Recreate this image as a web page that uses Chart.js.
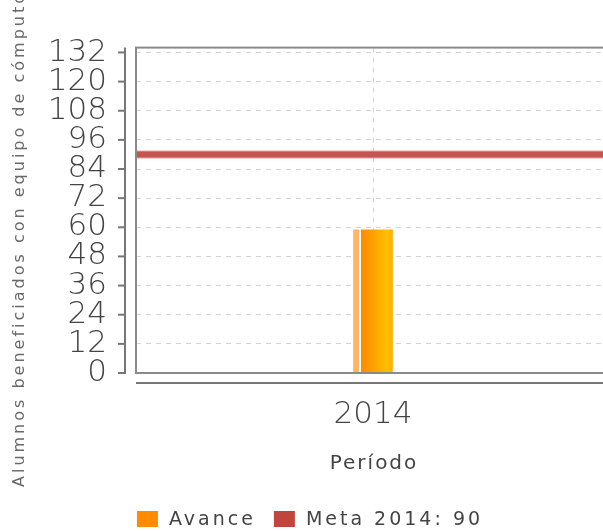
<!DOCTYPE html>
<html lang="es">
<head>
  <meta charset="UTF-8" />
  <title>Alumnos beneficiados</title>
  <script src="https://cdn.jsdelivr.net/npm/chart.js"></script>
  <style>
    html, body { margin: 0; padding: 0; background: #fff; overflow: hidden; }
    #wrap { position: absolute; left: 0; top: 0; width: 620px; height: 531px; }
  </style>
</head>
<body>
  <div id="wrap"><canvas id="chart"></canvas></div>

  <script>
    const categories = ['2014'];
    const avanceValues = [59];
    const metaValues = [90];
    const yTickValues = [0, 12, 24, 36, 48, 60, 72, 84, 96, 108, 120, 132];
    const yMax = 134;

    const yTitle = 'Alumnos beneficiados con equipo de cómputo';
    const xTitle = 'Período';
    const seriesColors = ['#FF8C00', '#C2443F'];

    // bar fill: faded left edge, thin white gap, then orange -> gold
    function barFill(ctx) {
      const chart = ctx.chart;
      const x = chart.scales.x;
      const c = x ? x.getPixelForValue(ctx.dataIndex) : NaN;
      if (!Number.isFinite(c)) return seriesColors[0];
      const g = chart.ctx.createLinearGradient(c - 19.5, 0, c + 19.5, 0);
      g.addColorStop(0, '#FFB466');
      g.addColorStop(0.13, '#FFB466');
      g.addColorStop(0.131, '#FFFFFF');
      g.addColorStop(0.2, '#FFFFFF');
      g.addColorStop(0.201, '#FF8A00');
      g.addColorStop(0.85, '#FFBE00');
      g.addColorStop(1, '#FFB000');
      return g;
    }

    const framePlugin = {
      id: 'frame',
      afterDatasetsDraw(chart) {
        const { ctx, chartArea: a, scales } = chart;
        // meta line across the plot
        const y = scales.y.getPixelForValue(metaValues[0]);
        ctx.save();
        ctx.beginPath();
        ctx.rect(a.left, a.top, a.right - a.left, a.bottom - a.top);
        ctx.clip();
        ctx.strokeStyle = '#E6A3A1';
        ctx.lineWidth = 8;
        ctx.beginPath(); ctx.moveTo(a.left, y); ctx.lineTo(a.right, y); ctx.stroke();
        ctx.strokeStyle = '#C65552';
        ctx.lineWidth = 6;
        ctx.beginPath(); ctx.moveTo(a.left, y); ctx.lineTo(a.right, y); ctx.stroke();
        ctx.restore();
      },
      afterDraw(chart) {
        const { ctx, chartArea: a, scales } = chart;
        ctx.save();
        // plot border
        ctx.strokeStyle = '#8a8a8a';
        ctx.lineWidth = 2;
        ctx.strokeRect(a.left, a.top, a.right - a.left, a.bottom - a.top);
        // detached y axis with ticks
        const ax = a.left - 11;
        ctx.strokeStyle = '#777';
        ctx.beginPath(); ctx.moveTo(ax, a.top); ctx.lineTo(ax, a.bottom + 1); ctx.stroke();
        yTickValues.forEach(v => {
          const ty = scales.y.getPixelForValue(v);
          ctx.beginPath(); ctx.moveTo(ax - 7, ty); ctx.lineTo(ax, ty); ctx.stroke();
        });
        // detached x axis
        const ay = a.bottom + 10;
        ctx.beginPath(); ctx.moveTo(a.left, ay); ctx.lineTo(a.right + 10, ay); ctx.stroke();

        // x title
        ctx.font = '20px "DejaVu Sans"';
        ctx.letterSpacing = '2px';
        ctx.fillStyle = '#444';
        ctx.textAlign = 'center';
        ctx.textBaseline = 'middle';
        ctx.fillText(xTitle, (a.left + a.right) / 2 + 1, a.bottom + 91);

        // legend
        ctx.font = '19px "DejaVu Sans"';
        ctx.letterSpacing = '3px';
        ctx.textAlign = 'left';
        const labels = chart.data.datasets.map(d => d.label);
        const widths = labels.map(t => ctx.measureText(t).width);
        const total = widths.reduce((s, w) => s + 21 + 11 + w, 0) + 18 * (labels.length - 1);
        let lx = chart.width / 2 - total / 2;
        const ly = 519;
        labels.forEach((t, i) => {
          ctx.fillStyle = seriesColors[i];
          ctx.fillRect(lx, ly - 8, 21, 16);
          ctx.fillStyle = '#444';
          ctx.fillText(t, lx + 32, ly + 1);
          lx += 32 + widths[i] + 18;
        });

        // y title
        ctx.translate(24, 487);
        ctx.rotate(-Math.PI / 2);
        ctx.font = '16px "DejaVu Sans"';
        ctx.letterSpacing = '3px';
        ctx.fillStyle = '#6a6a6a';
        ctx.textAlign = 'left';
        ctx.textBaseline = 'alphabetic';
        ctx.fillText(yTitle, 0, 0);
        ctx.restore();
      }
    };

    new Chart(document.getElementById('chart'), {
      data: {
        labels: categories,
        datasets: [
          {
            type: 'bar',
            label: 'Avance',
            data: avanceValues,
            backgroundColor: barFill,
            barThickness: 39,
            borderWidth: 0
          },
          {
            type: 'line',
            label: 'Meta 2014: 90',
            data: metaValues,
            backgroundColor: seriesColors[1],
            borderWidth: 0,
            pointRadius: 0,
            showLine: false
          }
        ]
      },
      options: {
        responsive: true,
        maintainAspectRatio: false,
        animation: false,
        layout: { padding: { top: 45, right: 10, left: 0, bottom: 0 } },
        plugins: {
          tooltip: { enabled: false },
          legend: { display: false }
        },
        scales: {
          x: {
            afterFit(s) { s.height = 158; },
            grid: {
              offset: false,
              drawTicks: false,
              color: '#d4d4d4'
            },
            border: { display: false, dash: [5, 5] },
            ticks: {
              padding: 23,
              color: '#444',
              font: { family: 'DejaVu Sans', size: 31, weight: 200 }
            }
          },
          y: {
            min: 0,
            max: yMax,
            afterFit(s) { s.width = 136; },
            afterBuildTicks(s) { s.ticks = yTickValues.map(v => ({ value: v })); },
            grid: {
              drawTicks: false,
              color: '#d4d4d4'
            },
            border: { display: false, dash: [5, 5] },
            ticks: {
              autoSkip: false,
              padding: 29,
              color: '#444',
              font: { family: 'DejaVu Sans', size: 31, weight: 200 }
            }
          }
        }
      },
      plugins: [framePlugin]
    });
  </script>
</body>
</html>
